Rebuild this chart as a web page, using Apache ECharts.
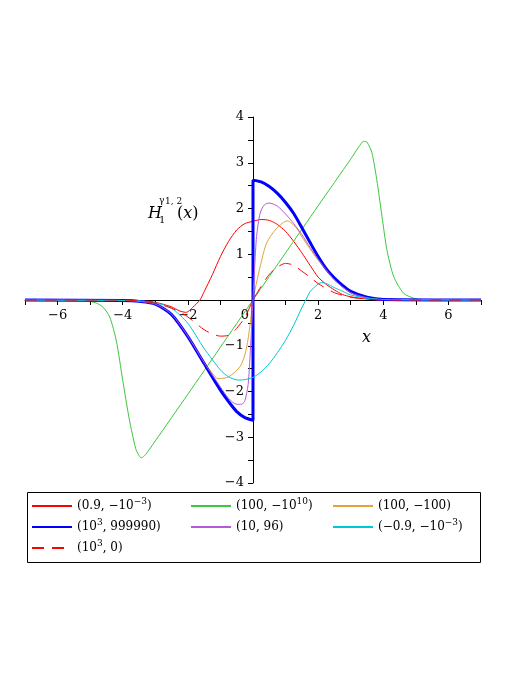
<!DOCTYPE html>
<html>
<head>
<meta charset="utf-8">
<script src="https://cdn.jsdelivr.net/npm/echarts@6/dist/echarts.min.js"></script>
<style>
  html, body { margin: 0; padding: 0; background: #fff; }
  #chart { width: 523px; height: 677px; }
</style>
</head>
<body>
<div id="chart"></div>
<script>
// values, one x list and one y list per curve
const redX = [-7, -4, -3.5, -3, -2.5, -2.25, -2.05, -1.85, -1.63, -1.5, -1.25, -1, -0.75, -0.5, -0.25, 0, 0.25, 0.5, 0.75, 1, 1.25, 1.5, 1.75, 2, 2.25, 2.5, 2.75, 3, 3.5, 4, 7];
const redY = [0, 0, -0.01, -0.05, -0.15, -0.24, -0.27, -0.16, 0, 0.18, 0.55, 0.95, 1.28, 1.53, 1.67, 1.72, 1.76, 1.74, 1.65, 1.5, 1.28, 1.03, 0.76, 0.5, 0.34, 0.22, 0.12, 0.07, 0.02, 0, 0];

const greenX = [-7, -5.2, -5, -4.8, -4.6, -4.4, -4.2, -4, -3.8, -3.6, -3.5, -3.43, -3.3, -3, -2, -1, 0, 1, 2, 3, 3.25, 3.4, 3.5, 3.65, 3.8, 3.96, 4.11, 4.32, 4.62, 4.93, 5.2, 7];
const greenY = [0, 0, -0.03, -0.07, -0.16, -0.37, -0.88, -1.75, -2.6, -3.25, -3.4, -3.45, -3.38, -3.08, -2.06, -1.03, 0, 1.03, 2.06, 3.08, 3.35, 3.47, 3.45, 3.22, 2.63, 1.83, 1.1, 0.51, 0.15, 0.04, 0, 0];

const orangeX = [-7, -4, -3.5, -3, -2.5, -2, -1.5, -1.25, -1.07, -0.75, -0.4, -0.25, -0.15, -0.05, 0, 0.06, 0.22, 0.42, 0.73, 1.05, 1.34, 1.5, 1.75, 2, 2.5, 3, 3.5, 4, 7];
const orangeY = [0, -0.01, -0.03, -0.09, -0.3, -0.78, -1.34, -1.6, -1.72, -1.68, -1.46, -1.2, -0.85, -0.3, 0, 0.22, 0.73, 1.25, 1.57, 1.73, 1.57, 1.38, 1.12, 0.87, 0.44, 0.15, 0.05, 0.01, 0];

const blueX = [-7, -4, -3.5, -3, -2.5, -2, -1.5, -1, -0.75, -0.5, -0.25, 0, 0, 0.25, 0.5, 0.75, 1, 1.25, 1.5, 1.75, 2, 2.25, 2.5, 2.75, 3, 3.5, 4, 7];
const blueY = [0, -0.01, -0.03, -0.09, -0.32, -0.8, -1.39, -1.97, -2.22, -2.44, -2.57, -2.63, 2.62, 2.58, 2.48, 2.33, 2.13, 1.89, 1.58, 1.26, 0.95, 0.68, 0.48, 0.32, 0.19, 0.06, 0.01, 0];

const purpleX = [-7, -4, -3.5, -3, -2.5, -2, -1.5, -1, -0.75, -0.5, -0.35, -0.25, -0.15, -0.08, 0, 0.05, 0.11, 0.22, 0.35, 0.5, 0.75, 1, 1.25, 1.5, 1.75, 2, 2.5, 3, 3.5, 4, 7];
const purpleY = [0, -0.01, -0.03, -0.09, -0.31, -0.79, -1.37, -1.9, -2.15, -2.28, -2.28, -2.2, -1.85, -1.1, 0, 0.7, 1.39, 1.9, 2.08, 2.12, 2.05, 1.88, 1.67, 1.43, 1.15, 0.89, 0.44, 0.16, 0.05, 0.01, 0];

const cyanX = [-7, -4, -3.5, -3, -2.5, -2, -1.5, -1, -0.75, -0.45, -0.25, 0, 0.25, 0.5, 0.75, 1, 1.25, 1.5, 1.62, 1.75, 2, 2.1, 2.25, 2.5, 2.75, 3, 3.5, 4, 7];
const cyanY = [0, -0.01, -0.02, -0.06, -0.18, -0.51, -1.06, -1.53, -1.68, -1.75, -1.74, -1.69, -1.57, -1.39, -1.15, -0.88, -0.55, -0.17, 0, 0.18, 0.35, 0.38, 0.36, 0.27, 0.19, 0.11, 0.04, 0.01, 0];

const dashX = [-7, -4, -3.5, -3, -2.5, -2.2, -2, -1.5, -1.25, -1, -0.75, -0.5, -0.25, -0.1, 0, 0.25, 0.5, 0.75, 1, 1.25, 1.5, 1.75, 2, 2.5, 3, 3.5, 4, 7];
const dashY = [0, 0, -0.02, -0.07, -0.18, -0.28, -0.37, -0.65, -0.74, -0.79, -0.77, -0.62, -0.38, -0.16, 0, 0.3, 0.56, 0.72, 0.8, 0.76, 0.63, 0.5, 0.36, 0.16, 0.06, 0.02, 0, 0];

// legend captions, superscripts use the "s" rich style
const seriesLabels = {
  red: "(0.9, \u221210{s|\u22123})",
  green: "(100, \u221210{s|10})",
  orange: "(100, \u2212100)",
  blue: "(10{s|3}, 999990)",
  purple: "(10, 96)",
  cyan: "(\u22120.9, \u221210{s|\u22123})",
  dash: "(10{s|3}, 0)",
};

const xTicks = [-6, -4, -2, 0, 2, 4, 6];
const yTicks = [-4, -3, -2, -1, 1, 2, 3, 4];

const FONT = "DejaVu Serif";

// grid box: x from -7..7 over 456px, y from -4..4 over 366px
const GRID = { left: 25, right: 42, top: 117, bottom: 194 };

function zip(xs, ys) {
  return xs.map((x, i) => [x, ys[i]]);
}

function minus(v) {
  return v < 0 ? "\u2212" + -v : String(v);
}

function lineSeries(name, xs, ys, color, width, type) {
  return {
    name: name,
    type: "line",
    data: zip(xs, ys),
    showSymbol: false,
    symbol: "none",
    smooth: 0.25,
    color: color,
    lineStyle: { color: color, width: width, type: type || "solid" },
    emphasis: { disabled: true },
    silent: true,
  };
}

function legendColumn(names, left) {
  return {
    data: names,
    orient: "vertical",
    left: left,
    top: 497,
    padding: 0,
    itemWidth: 40,
    itemHeight: 14,
    itemGap: 3,
    selectedMode: false,
    itemStyle: { opacity: 0 },
    formatter: (name) => seriesLabels[name],
    textStyle: {
      fontFamily: FONT,
      fontSize: 12,
      lineHeight: 18,
      color: "#000",
      rich: {
        s: { fontFamily: FONT, fontSize: 9, verticalAlign: "top", lineHeight: 10, color: "#000" },
      },
    },
  };
}

function renderChart() {
  const chart = echarts.init(document.getElementById("chart"), null, { renderer: "canvas" });
  const W = 523, H = 677;
  const plotW = W - GRID.left - GRID.right;
  const plotH = H - GRID.top - GRID.bottom;
  // move the axes onto the origin, labels included
  const xOffset = -plotH / 2;
  const yOffset = -plotW / 2;

  const option = {
    animation: false,
    backgroundColor: "#fff",
    grid: { left: GRID.left, right: GRID.right, top: GRID.top, bottom: GRID.bottom, containLabel: false },
    xAxis: {
      type: "value",
      min: -7,
      max: 7,
      interval: 1,
      position: "bottom",
      offset: xOffset,
      axisLine: { onZero: false, lineStyle: { color: "#000", width: 1 } },
      axisTick: { show: true, length: 5, lineStyle: { color: "#000" } },
      splitLine: { show: false },
      axisLabel: {
        margin: 9,
        fontFamily: FONT,
        fontSize: 13,
        color: "#000",
        showMinLabel: true,
        showMaxLabel: true,
        formatter: (v) => {
          if (!xTicks.includes(v)) return "";
          if (v === 0) return "{z|0}";
          return minus(v);
        },
        rich: { z: { fontFamily: FONT, fontSize: 13, color: "#000", padding: [0, 16, 0, 0] } },
      },
    },
    yAxis: {
      type: "value",
      min: -4,
      max: 4,
      interval: 0.5,
      position: "left",
      offset: yOffset,
      axisLine: { show: true, onZero: false, lineStyle: { color: "#000", width: 1 } },
      axisTick: { show: true, length: 5, lineStyle: { color: "#000" } },
      splitLine: { show: false },
      axisLabel: {
        margin: 9,
        fontFamily: FONT,
        fontSize: 13,
        color: "#000",
        formatter: (v) => (yTicks.includes(v) ? minus(v) : ""),
      },
    },
    legend: [
      legendColumn(["red", "blue", "dash"], 31),
      legendColumn(["green", "purple"], 190),
      legendColumn(["orange", "cyan"], 332),
    ],
    graphic: [
      {
        type: "rect",
        shape: { x: 27.5, y: 492.5, width: 453, height: 70 },
        style: { fill: "none", stroke: "#000", lineWidth: 1 },
        z: 10,
      },
      {
        type: "text",
        left: 362,
        top: 330,
        style: { text: "x", font: "italic 16px 'DejaVu Serif'", fill: "#000" },
      },
      {
        type: "group",
        children: [
          { type: "text", x: 148, y: 206, style: { text: "H", font: "italic 16px 'DejaVu Serif'", fill: "#000" } },
          { type: "text", x: 159, y: 215, style: { text: "1", font: "10px 'DejaVu Serif'", fill: "#000" } },
          { type: "text", x: 159, y: 196, style: { text: "\u03b3", font: "9px 'DejaVu Serif'", fill: "#000" } },
          { type: "text", x: 165, y: 197, style: { text: "1, 2", font: "9px 'DejaVu Serif'", fill: "#000" } },
          {
            type: "text",
            x: 177,
            y: 206,
            style: {
              text: "({i|x})",
              font: "16px 'DejaVu Serif'",
              fill: "#000",
              rich: { i: { fontFamily: FONT, fontStyle: "italic", fontSize: 16, fill: "#000" } },
            },
          },
        ],
      },
    ],
    series: [
      lineSeries("red", redX, redY, "#ff0000", 1),
      lineSeries("green", greenX, greenY, "#3ec63e", 1),
      lineSeries("orange", orangeX, orangeY, "#e2a436", 1),
      lineSeries("blue", blueX, blueY, "#0000ff", 3),
      lineSeries("purple", purpleX, purpleY, "#b45ad8", 1),
      lineSeries("cyan", cyanX, cyanY, "#00c8d2", 1),
      lineSeries("dash", dashX, dashY, "#ff0000", 1, [12, 8]),
    ],
  };

  chart.setOption(option);
}

document.addEventListener("DOMContentLoaded", function () {
  renderChart();
});
</script>
</body>
</html>
